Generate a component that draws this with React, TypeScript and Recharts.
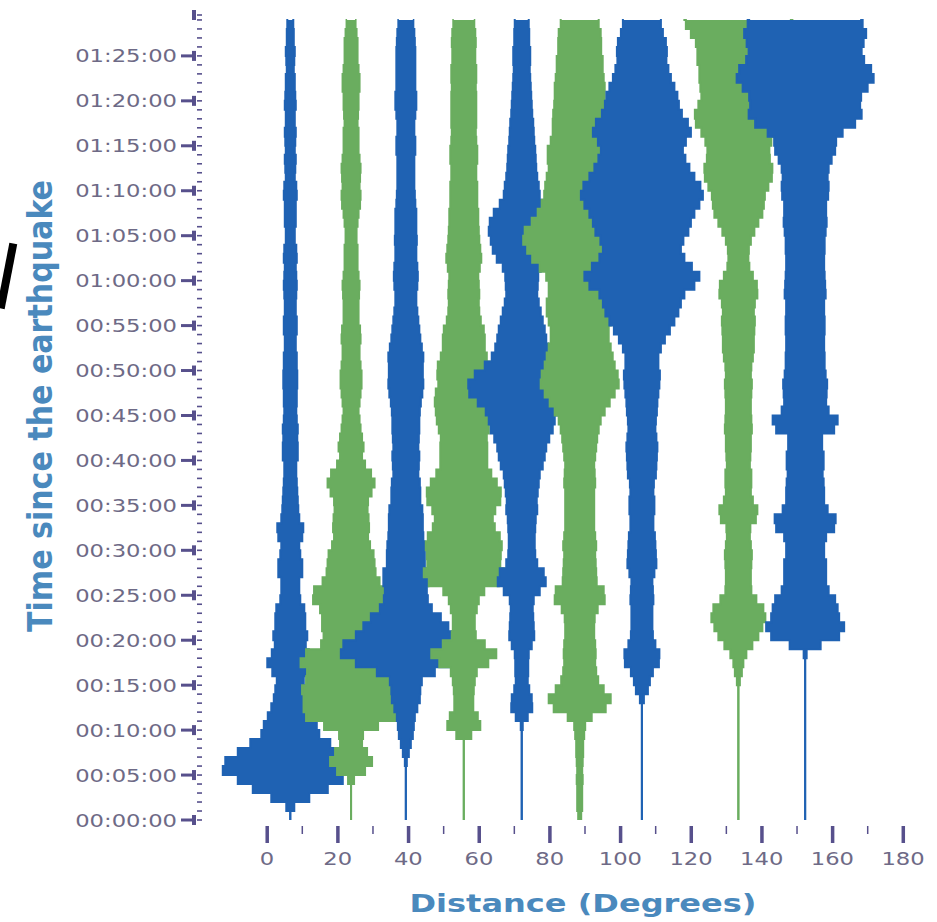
import React from 'react';
import { ComposedChart, Area, XAxis, YAxis } from 'recharts';

// station distances (degrees) for each seismogram trace
const STATIONS = [6.6, 23.8, 39.3, 55.7, 72.1, 88.5, 106.1, 133.4, 152.3];
const TRACE_COLORS = ['blue', 'green', 'blue', 'green', 'blue', 'green', 'blue', 'green', 'blue'];

// half-amplitude of each trace, one sample per minute (0..89 min), in counts
const TRACE_A = [
  0, 0, 8, 30, 45, 60, 75, 55, 50, 30,
  28, 25, 20, 18, 15, 15, 12, 24, 22, 15,
  16, 18, 12, 18, 10, 10, 8, 10, 14, 10,
  10, 8, 16, 10, 8, 8, 7, 7, 6, 6,
  6, 9, 6, 8, 7, 6, 6, 7, 6, 8,
  6, 7, 6, 5, 6, 7, 6, 5, 6, 6,
  7, 5, 6, 7, 5, 4, 5, 6, 5, 6,
  7, 5, 4, 6, 5, 4, 6, 5, 4, 5,
  6, 4, 5, 4, 3, 5, 4, 3, 4, 2,
];
const TRACE_B = [
  0, 0, 0, 0, 0, 6, 22, 20, 12, 10,
  14, 40, 50, 45, 50, 48, 42, 46, 55, 35,
  25, 30, 28, 30, 32, 44, 30, 27, 22, 25,
  20, 18, 16, 20, 15, 18, 16, 25, 22, 18,
  10, 12, 13, 9, 10, 7, 8, 9, 10, 11,
  10, 9, 8, 9, 10, 8, 7, 8, 7, 9,
  8, 7, 6, 7, 6, 5, 6, 7, 8, 10,
  9, 8, 10, 9, 8, 7, 8, 7, 6, 8,
  7, 8, 9, 8, 7, 6, 7, 6, 5, 4,
];
const TRACE_C = [
  0, 0, 0, 0, 0, 0, 0, 2, 4, 6,
  8, 8, 10, 13, 15, 14, 18, 40, 60, 70,
  55, 45, 40, 30, 22, 22, 20, 25, 20, 18,
  20, 17, 18, 16, 18, 15, 14, 15, 13, 12,
  14, 13, 12, 14, 13, 14, 14, 16, 17, 18,
  16, 18, 17, 15, 14, 13, 12, 11, 10, 11,
  12, 12, 11, 10, 11, 11, 10, 11, 10, 9,
  9, 8, 9, 8, 9, 10, 9, 8, 9, 10,
  11, 10, 9, 10, 9, 10, 9, 9, 8, 7,
];
const TRACE_D = [
  0, 0, 0, 0, 0, 0, 0, 0, 0, 0,
  15, 18, 10, 9, 10, 10, 12, 14, 35, 30,
  12, 12, 10, 12, 14, 16, 25, 45, 35, 38,
  36, 40, 32, 30, 28, 35, 38, 36, 30, 25,
  22, 25, 22, 24, 26, 28, 28, 30, 26, 25,
  28, 24, 22, 20, 22, 18, 16, 15, 15, 16,
  14, 15, 17, 18, 15, 16, 14, 15, 14, 13,
  14, 13, 12, 13, 14, 13, 12, 12, 13, 12,
  13, 12, 12, 13, 12, 11, 12, 12, 11, 10,
];
const TRACE_E = [
  0, 0, 0, 0, 0, 0, 0, 0, 0, 0,
  0, 2, 10, 11, 9, 6, 6, 7, 6, 8,
  12, 13, 11, 12, 10, 14, 22, 26, 18, 13,
  14, 12, 14, 13, 15, 16, 14, 18, 16, 20,
  22, 24, 25, 30, 32, 34, 38, 50, 55, 52,
  42, 32, 28, 25, 24, 22, 20, 18, 16, 15,
  17, 16, 22, 28, 30, 32, 34, 30, 26, 18,
  18, 16, 15, 14, 14, 13, 12, 12, 11, 10,
  10, 9, 9, 8, 8, 9, 8, 7, 8, 6,
];
const TRACE_F = [
  1, 2, 3, 2, 3, 3, 2, 4, 3, 4,
  5, 6, 18, 34, 28, 20, 17, 16, 15, 17,
  14, 15, 14, 16, 20, 30, 18, 16, 17, 15,
  16, 17, 14, 15, 14, 15, 14, 15, 16, 14,
  15, 16, 17, 18, 20, 22, 28, 32, 38, 40,
  36, 34, 32, 30, 28, 30, 32, 34, 32, 30,
  32, 35, 45, 50, 55, 58, 52, 44, 40, 36,
  35, 34, 32, 30, 34, 30, 28, 26, 28, 25,
  26, 24, 26, 22, 24, 22, 21, 22, 20, 18,
];
const TRACE_G = [
  0, 0, 0, 0, 0, 0, 0, 0, 0, 0,
  0, 0, 0, 0, 4, 8, 8, 14, 20, 15,
  12, 10, 11, 10, 11, 12, 10, 11, 14, 15,
  13, 14, 12, 11, 12, 13, 12, 11, 13, 15,
  14, 16, 15, 14, 13, 15, 15, 16, 17, 18,
  18, 15, 18, 20, 26, 30, 35, 38, 40, 45,
  60, 55, 45, 40, 38, 45, 48, 50, 55, 60,
  62, 55, 50, 45, 42, 40, 48, 50, 42, 38,
  36, 35, 30, 28, 25, 24, 26, 22, 20, 18,
];
const TRACE_H = [
  0, 0, 0, 0, 0, 0, 0, 0, 0, 0,
  0, 0, 0, 0, 0, 0, 3, 4, 6, 10,
  18, 22, 26, 28, 22, 14, 12, 13, 12, 14,
  13, 12, 11, 13, 22, 16, 13, 12, 14, 12,
  11, 13, 12, 13, 14, 12, 13, 12, 14, 13,
  12, 14, 15, 16, 15, 17, 16, 15, 18, 20,
  17, 12, 10, 10, 11, 14, 18, 22, 26, 25,
  28, 32, 35, 33, 30, 32, 34, 40, 45, 42,
  38, 36, 40, 38, 40, 42, 40, 45, 50, 55,
];
const TRACE_I = [
  0, 0, 0, 0, 0, 0, 0, 0, 0, 0,
  0, 0, 0, 0, 0, 0, 0, 0, 0, 3,
  28, 40, 38, 30, 35, 25, 22, 20, 22, 20,
  18, 20, 22, 36, 25, 20, 18, 20, 17, 18,
  19, 18, 16, 18, 40, 25, 22, 20, 23, 21,
  20, 19, 20, 18, 20, 19, 20, 18, 20, 21,
  19, 20, 18, 20, 19, 20, 21, 22, 20, 22,
  24, 23, 22, 25, 28, 32, 30, 45, 55, 58,
  52, 60, 65, 72, 60, 58, 55, 62, 60, 55,
];
const TRACES = [TRACE_A, TRACE_B, TRACE_C, TRACE_D, TRACE_E, TRACE_F, TRACE_G, TRACE_H, TRACE_I];

// display gain: degrees of distance per amplitude count
const GAIN = 0.283;

const MINUTES = TRACE_A.map((_, i) => i);
const X_TICKS = [0, 10, 20, 30, 40, 50, 60, 70, 80, 90, 100, 110, 120, 130, 140, 150, 160, 170, 180];
const T_MAX = 89.55;
const Y_TICKS = [...MINUTES, T_MAX];

const X_MIN = -18.1;
const X_MAX = 184.8;

const COLORS: Record<string, string> = { blue: '#1f62b3', green: '#6aad5f' };
const AXIS_COLOR = '#57508c';
const LABEL_COLOR = '#6e6a86';
const TITLE_COLOR = '#4a89bd';

const rows = MINUTES.map((t, i) => {
  const r: Record<string, number> = { t };
  TRACES.forEach((tr, k) => {
    r[`s${k}`] = tr[i];
  });
  return r;
});

const fmtTime = (m: number) => {
  const h = Math.floor(m / 60);
  const mm = m % 60;
  return `0${h}:${String(mm).padStart(2, '0')}:00`;
};

const YTick = (props: any) => {
  const { y, payload } = props;
  const v = payload.value;
  const labelled = Number.isInteger(v) && v % 5 === 0;
  const major = labelled || v === T_MAX;
  if (!major) {
    return <line x1={197} x2={202} y1={y} y2={y} stroke={AXIS_COLOR} strokeWidth={1.6} />;
  }
  return (
    <g>
      {labelled && <line x1={181} x2={192} y1={y} y2={y} stroke={AXIS_COLOR} strokeWidth={3} />}
      <rect x={192} y={y - 5} width={4} height={10} fill={AXIS_COLOR} />
      <line x1={197} x2={202} y1={y} y2={y} stroke={AXIS_COLOR} strokeWidth={1.6} />
      {labelled && (
        <text
          transform={`translate(177, ${y + 6.5}) scale(1.26, 1)`}
          textAnchor="end"
          fontFamily="DejaVu Sans"
          fontSize={18}
          fill={LABEL_COLOR}
        >
          {fmtTime(v)}
        </text>
      )}
    </g>
  );
};

const XTick = (props: any) => {
  const { x, payload } = props;
  const v = payload.value;
  if (v % 20 !== 0) {
    return <line x1={x} x2={x} y1={826} y2={834} stroke={AXIS_COLOR} strokeWidth={1.5} />;
  }
  return (
    <g>
      <rect x={x - 1.5} y={826} width={3.5} height={17} fill={AXIS_COLOR} />
      <text
        transform={`translate(${x}, 865) scale(1.26, 1)`}
        textAnchor="middle"
        fontFamily="DejaVu Sans"
        fontSize={18}
        fill={LABEL_COLOR}
      >
        {v}
      </text>
    </g>
  );
};

const XTitle = () => (
  <text
    x={583}
    y={912}
    textAnchor="middle"
    fontFamily="DejaVu Sans"
    fontWeight="bold"
    fontSize={25}
    textLength={347}
    lengthAdjust="spacingAndGlyphs"
    fill={TITLE_COLOR}
  >
    Distance (Degrees)
  </text>
);

const YTitle = () => (
  <text
    transform="translate(52, 406) scale(1.26, 1) rotate(-90)"
    textAnchor="middle"
    fontFamily="DejaVu Sans"
    fontWeight="bold"
    fontSize={27}
    textLength={452}
    lengthAdjust="spacingAndGlyphs"
    fill={TITLE_COLOR}
  >
    Time since the earthquake
  </text>
);

export default function App() {
  return (
    <div style={{ position: 'absolute', left: 0, top: 0, width: 937, height: 922, background: '#fff', overflow: 'hidden' }}>
      <ComposedChart
        width={937}
        height={922}
        layout="vertical"
        data={rows}
        margin={{ top: 15, right: 17, bottom: 42, left: 0 }}
      >
        <XAxis
          type="number"
          domain={[X_MIN, X_MAX]}
          ticks={X_TICKS}
          interval={0}
          allowDataOverflow
          height={60}
          axisLine={false}
          tickLine={false}
          tick={<XTick />}
          label={{ content: <XTitle /> }}
        />
        <YAxis
          type="number"
          dataKey="t"
          domain={[0, T_MAX]}
          ticks={Y_TICKS}
          interval={0}
          reversed
          allowDataOverflow
          width={203}
          axisLine={false}
          tickLine={false}
          tick={<YTick />}
          label={{ content: <YTitle /> }}
        />
        {STATIONS.map((s, k) => {
          const c = COLORS[TRACE_COLORS[k]];
          return (
            <Area
              key={k}
              type="step"
              dataKey={(d: any) => [s - d[`s${k}`] * GAIN, s + d[`s${k}`] * GAIN]}
              stroke={c}
              strokeWidth={2}
              fill={c}
              fillOpacity={1}
              dot={false}
              activeDot={false}
              isAnimationActive={false}
            />
          );
        })}
      </ComposedChart>
      <div
        style={{
          position: 'absolute',
          left: 3,
          top: 243,
          width: 8,
          height: 66,
          background: '#000',
          transform: 'rotate(11deg)',
        }}
      />
    </div>
  );
}
